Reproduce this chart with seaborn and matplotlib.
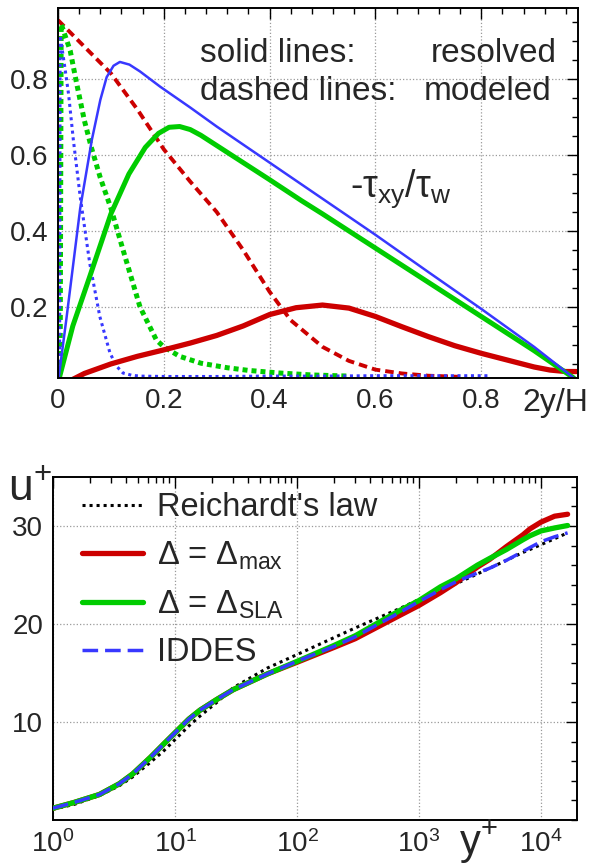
import matplotlib
matplotlib.use('Agg')
import matplotlib.pyplot as plt
import seaborn as sns
import numpy as np
import pandas as pd
from matplotlib.ticker import MultipleLocator, LogLocator, NullFormatter, FixedLocator

# ---------------- top panel: shear stress -tau_xy/tau_w vs 2y/H ----------------
res_max_x = [0.026, 0.05, 0.1, 0.15, 0.2, 0.25, 0.3, 0.35, 0.4, 0.45, 0.5, 0.55, 0.6,
             0.65, 0.7, 0.75, 0.8, 0.85, 0.9, 0.93, 0.96, 0.98]
res_max_y = [0.008, 0.025, 0.05, 0.07, 0.087, 0.105, 0.125, 0.15, 0.18, 0.198, 0.205, 0.197,
             0.175, 0.148, 0.122, 0.098, 0.078, 0.06, 0.042, 0.034, 0.03, 0.03]

mod_max_x = [0.0, 0.05, 0.1, 0.15, 0.2, 0.25, 0.3, 0.35, 0.4, 0.44, 0.47, 0.5, 0.55,
             0.6, 0.65, 0.7, 0.76]
mod_max_y = [0.955, 0.885, 0.815, 0.72, 0.615, 0.53, 0.45, 0.35, 0.24, 0.165, 0.13, 0.095,
             0.058, 0.035, 0.025, 0.019, 0.016]

res_sla_x = [0.0, 0.028, 0.06, 0.1, 0.134, 0.165, 0.19, 0.21, 0.23, 0.25, 0.27, 0.3, 0.35,
             0.4, 0.46, 0.5, 0.6, 0.7, 0.8, 0.9, 0.975]
res_sla_y = [0.0, 0.15, 0.28, 0.445, 0.55, 0.62, 0.657, 0.673, 0.675, 0.667, 0.652, 0.625,
             0.58, 0.535, 0.48, 0.445, 0.355, 0.265, 0.175, 0.085, 0.013]

res_ides_x = [0.0, 0.016, 0.042, 0.064, 0.08, 0.092, 0.105, 0.117, 0.135, 0.155, 0.193,
              0.25, 0.3, 0.4, 0.5, 0.6, 0.7, 0.8, 0.9, 0.975]
res_ides_y = [0.0, 0.17, 0.46, 0.64, 0.745, 0.805, 0.835, 0.845, 0.838, 0.82, 0.78, 0.725,
              0.675, 0.58, 0.485, 0.39, 0.292, 0.195, 0.095, 0.013]

mod_sla_x = [0.004, 0.006, 0.023, 0.035, 0.05, 0.063, 0.08, 0.1, 0.123, 0.155, 0.186, 0.2,
             0.23, 0.27, 0.32, 0.36, 0.42, 0.48, 0.55]
mod_sla_y = [0.0, 0.945, 0.875, 0.79, 0.69, 0.62, 0.54, 0.46, 0.35, 0.2, 0.113, 0.095,
             0.07, 0.052, 0.04, 0.033, 0.026, 0.021, 0.018]

mod_ides_x = [0.003, 0.004, 0.013, 0.02, 0.029, 0.042, 0.06, 0.079, 0.098, 0.11, 0.123,
              0.14, 0.155, 0.2, 0.3, 0.4, 0.5, 0.6, 0.7, 0.815]
mod_ides_y = [0.0, 0.915, 0.83, 0.76, 0.64, 0.49, 0.315, 0.175, 0.08, 0.045, 0.026, 0.02,
              0.018, 0.017, 0.017, 0.018, 0.018, 0.019, 0.019, 0.019]

top_xticks = [0, 0.2, 0.4, 0.6, 0.8]
top_xticklabels = ['0', '0.2', '0.4', '0.6', '0.8']
top_yticks = [0.2, 0.4, 0.6, 0.8]
top_yticklabels = ['0.2', '0.4', '0.6', '0.8']

# ---------------- bottom panel: u+ vs y+ ----------------
yplus = [1, 1.5, 2.4, 3.5, 4.5, 6.3, 8, 10, 13, 16, 22, 30, 57, 105, 200, 300, 700,
         1000, 1500, 2000, 3000, 3800, 5200, 7100, 8100, 10000, 12900, 16500]
u_reichardt = [1.1, 1.6, 2.5, 3.5, 4.4, 5.9, 7.0, 8.2, 9.6, 10.6, 12.0, 13.5, 15.5, 17.0,
               18.6, 19.6, 21.6, 22.5, 23.4, 24.1, 25.1, 25.7, 26.5, 27.3, 27.6, 28.1,
               28.7, 29.3]
u_dmax = [1.2, 1.8, 2.6, 3.7, 4.7, 6.4, 7.7, 8.9, 10.3, 11.2, 12.3, 13.3, 14.9, 16.2,
          17.6, 18.5, 20.9, 21.9, 23.2, 24.2, 25.8, 26.6, 27.9, 29.1, 29.7, 30.4, 31.0, 31.2]
u_dsla = [1.2, 1.8, 2.6, 3.7, 4.7, 6.4, 7.7, 8.9, 10.3, 11.2, 12.3, 13.3, 14.9, 16.3,
          17.8, 18.8, 21.4, 22.4, 23.8, 24.6, 26.0, 26.7, 27.6, 28.6, 29.0, 29.5, 29.8, 30.05]
u_iddes = [1.2, 1.8, 2.6, 3.7, 4.7, 6.4, 7.7, 8.9, 10.3, 11.2, 12.3, 13.3, 14.9, 16.3,
           17.7, 18.7, 21.2, 22.3, 23.5, 24.3, 25.2, 25.7, 26.5, 27.4, 27.8, 28.4, 28.9, 29.3]
legend_labels = ["Reichardt's law", "Δ = Δ$_{max}$", "Δ = Δ$_{SLA}$", "IDDES"]
bot_yticks = [10, 20, 30]
bot_yticklabels = ['10', '20', '30']

RED = '#cc0000'
GREEN = '#00cc00'
BLUE = '#3838ff'

sns.set_theme(style='white')
plt.rcParams['font.family'] = ['Liberation Sans', 'DejaVu Sans']
plt.rcParams['mathtext.fontset'] = 'custom'
plt.rcParams['mathtext.rm'] = 'Liberation Sans'
plt.rcParams['mathtext.it'] = 'Liberation Sans:italic'
plt.rcParams['mathtext.default'] = 'regular'
plt.rcParams['axes.edgecolor'] = 'black'
plt.rcParams['axes.linewidth'] = 1.4

fig = plt.figure(figsize=(5.92, 8.64), dpi=100)
ax1 = fig.add_axes([58 / 592, 1 - 378 / 864, 520 / 592, 370 / 864])
ax2 = fig.add_axes([53 / 592, 1 - 820 / 864, 524 / 592, 343 / 864])

grid_kw = dict(ls=':', color='#9a9a9a', lw=0.9)

# ---- top ----
def line(ax, x, y, color, lw, ls='-', label=None, z=2):
    sns.lineplot(x=x, y=y, ax=ax, color=color, lw=lw, linestyle=ls, sort=False,
                 estimator=None, label=label, zorder=z)

line(ax1, mod_max_x, mod_max_y, RED, 2.8, (0, (2.2, 1.3)))
line(ax1, mod_sla_x, mod_sla_y, GREEN, 3.6, (0, (1.0, 0.8)))
line(ax1, mod_ides_x, mod_ides_y, BLUE, 2.2, (0, (1.0, 1.2)))
line(ax1, res_max_x, res_max_y, RED, 3.8)
line(ax1, res_sla_x, res_sla_y, GREEN, 3.6)
line(ax1, res_ides_x, res_ides_y, BLUE, 1.8)

ax1.set_xlim(0, 0.983)
ax1.set_ylim(0.013, 0.987)
ax1.set_xticks(top_xticks, top_xticklabels)
ax1.set_yticks(top_yticks, top_yticklabels)
ax1.xaxis.set_minor_locator(MultipleLocator(0.04))
ax1.yaxis.set_minor_locator(MultipleLocator(0.05))
ax1.grid(True, which='major', **grid_kw)
ax1.set_axisbelow(True)

ax1.text(0.268, 0.845, 'solid lines:', fontsize=24, ha='left', va='baseline')
ax1.text(0.943, 0.845, 'resolved', fontsize=24, ha='right', va='baseline')
ax1.text(0.268, 0.745, 'dashed lines:', fontsize=24, ha='left', va='baseline')
ax1.text(0.932, 0.745, 'modeled', fontsize=24, ha='right', va='baseline')
ax1.text(0.648, 0.49, '-τ$_{xy}$/τ$_{w}$', fontsize=27, ha='center', va='baseline')
ax1.annotate('2y/H', xy=(0.941, 0), xycoords=('data', 'axes fraction'),
             xytext=(0, -7), textcoords='offset points', ha='center', va='top',
             fontsize=23)

# ---- bottom ----
line(ax2, yplus, u_reichardt, 'black', 2.2, (0, (1.0, 1.3)), legend_labels[0], 2)
line(ax2, yplus, u_dmax, RED, 3.8, '-', legend_labels[1], 3)
line(ax2, yplus, u_dsla, GREEN, 3.8, '-', legend_labels[2], 4)
line(ax2, yplus, u_iddes, BLUE, 2.5, (0, (4.5, 2.0)), legend_labels[3], 5)

ax2.set_xscale('log')
ax2.set_xlim(1, 19700)
ax2.set_ylim(0, 35)
ax2.set_yticks(bot_yticks, bot_yticklabels)
ax2.yaxis.set_minor_locator(MultipleLocator(2))
ax2.xaxis.set_major_locator(LogLocator(base=10, numticks=10))
ax2.xaxis.set_minor_locator(LogLocator(base=10, subs=np.arange(2, 10), numticks=20))
ax2.xaxis.set_minor_formatter(NullFormatter())
ax2.grid(True, which='major', **grid_kw)
ax2.set_axisbelow(True)
ax2.set_xlabel('')
ax2.set_ylabel('')

leg = ax2.legend(loc='upper left', bbox_to_anchor=(0.0553, 0.955), frameon=False,
                 fontsize=23.5, handlelength=1.87, handletextpad=0.43,
                 labelspacing=0.5, borderpad=0, borderaxespad=0)

fig.text(8 / 592, 1 - 500 / 864, 'u$^{+}$', fontsize=32, ha='left', va='baseline')
fig.text(478 / 592, 1 - 854 / 864, 'y$^{+}$', fontsize=30, ha='center', va='baseline')

for ax in (ax1, ax2):
    ax.tick_params(which='both', direction='in', top=True, right=True,
                   color='black', width=1.0)
    ax.tick_params(which='major', length=8, labelsize=20, pad=7)
    ax.tick_params(which='minor', length=4.5)
    for s in ax.spines.values():
        s.set_color('black')
        s.set_linewidth(1.4)

fig.savefig('out.png', dpi=100, facecolor='white')
